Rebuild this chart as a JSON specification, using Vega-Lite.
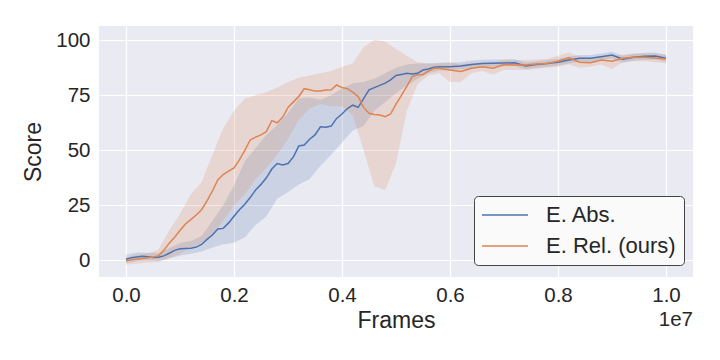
{
  "$schema": "https://vega.github.io/schema/vega-lite/v6.json",
  "width": 594,
  "height": 251,
  "autosize": {"type": "none"},
  "padding": {"left": 99, "top": 26, "right": 27, "bottom": 83},
  "background": "white",
  "config": {
    "view": {"fill": "#EAEAF2", "stroke": null},
    "font": "Liberation Sans",
    "axis": {
      "domain": false, "ticks": false, "gridColor": "white", "gridWidth": 1.2,
      "labelFont": "Liberation Sans", "labelFontSize": 20.5, "labelColor": "#262626",
      "titleFont": "Liberation Sans", "titleFontSize": 23, "titleFontWeight": "normal", "titleColor": "#262626"
    },
    "legend": {
      "labelFont": "Liberation Sans", "labelFontSize": 22, "labelColor": "#262626"
    }
  },
  "datasets": {
    "bands": [
      {"frames": 0, "series": "E. Abs.", "lo": -1.2, "hi": 2.5},
      {"frames": 200000, "series": "E. Abs.", "lo": -0.3, "hi": 3.5},
      {"frames": 400000, "series": "E. Abs.", "lo": -0.2, "hi": 3.4},
      {"frames": 600000, "series": "E. Abs.", "lo": -0.3, "hi": 3.2},
      {"frames": 800000, "series": "E. Abs.", "lo": 0.8, "hi": 5.5},
      {"frames": 1000000, "series": "E. Abs.", "lo": 2.2, "hi": 7.8},
      {"frames": 1200000, "series": "E. Abs.", "lo": 3.0, "hi": 8.8},
      {"frames": 1400000, "series": "E. Abs.", "lo": 4.0, "hi": 11},
      {"frames": 1600000, "series": "E. Abs.", "lo": 5.8, "hi": 18},
      {"frames": 1800000, "series": "E. Abs.", "lo": 7.3, "hi": 25},
      {"frames": 2000000, "series": "E. Abs.", "lo": 8, "hi": 34},
      {"frames": 2200000, "series": "E. Abs.", "lo": 10.5, "hi": 45},
      {"frames": 2400000, "series": "E. Abs.", "lo": 16, "hi": 51},
      {"frames": 2600000, "series": "E. Abs.", "lo": 20, "hi": 57},
      {"frames": 2800000, "series": "E. Abs.", "lo": 28, "hi": 61.5},
      {"frames": 3000000, "series": "E. Abs.", "lo": 31, "hi": 67},
      {"frames": 3200000, "series": "E. Abs.", "lo": 34.5, "hi": 73.5},
      {"frames": 3400000, "series": "E. Abs.", "lo": 37, "hi": 74},
      {"frames": 3600000, "series": "E. Abs.", "lo": 43, "hi": 73},
      {"frames": 3800000, "series": "E. Abs.", "lo": 48, "hi": 75},
      {"frames": 4000000, "series": "E. Abs.", "lo": 53.5, "hi": 78},
      {"frames": 4200000, "series": "E. Abs.", "lo": 59, "hi": 80.5},
      {"frames": 4400000, "series": "E. Abs.", "lo": 61, "hi": 81},
      {"frames": 4600000, "series": "E. Abs.", "lo": 68, "hi": 82.5},
      {"frames": 4800000, "series": "E. Abs.", "lo": 72, "hi": 85},
      {"frames": 5000000, "series": "E. Abs.", "lo": 76, "hi": 87.5},
      {"frames": 5200000, "series": "E. Abs.", "lo": 79.5, "hi": 89},
      {"frames": 5400000, "series": "E. Abs.", "lo": 82.5, "hi": 89.5},
      {"frames": 5600000, "series": "E. Abs.", "lo": 85, "hi": 89.5},
      {"frames": 5800000, "series": "E. Abs.", "lo": 86.3, "hi": 89.8},
      {"frames": 6000000, "series": "E. Abs.", "lo": 86.5, "hi": 89.8},
      {"frames": 6200000, "series": "E. Abs.", "lo": 86.8, "hi": 90},
      {"frames": 6400000, "series": "E. Abs.", "lo": 87.2, "hi": 90.7},
      {"frames": 6600000, "series": "E. Abs.", "lo": 87.8, "hi": 91.2},
      {"frames": 6800000, "series": "E. Abs.", "lo": 88, "hi": 91.3},
      {"frames": 7000000, "series": "E. Abs.", "lo": 88.2, "hi": 91.3},
      {"frames": 7200000, "series": "E. Abs.", "lo": 88.3, "hi": 91.4},
      {"frames": 7400000, "series": "E. Abs.", "lo": 86.8, "hi": 90},
      {"frames": 7600000, "series": "E. Abs.", "lo": 87.5, "hi": 90.5},
      {"frames": 7800000, "series": "E. Abs.", "lo": 88, "hi": 91},
      {"frames": 8000000, "series": "E. Abs.", "lo": 88.5, "hi": 91.6},
      {"frames": 8200000, "series": "E. Abs.", "lo": 89.5, "hi": 92.5},
      {"frames": 8400000, "series": "E. Abs.", "lo": 90.3, "hi": 93.3},
      {"frames": 8600000, "series": "E. Abs.", "lo": 90.3, "hi": 93.3},
      {"frames": 8800000, "series": "E. Abs.", "lo": 91, "hi": 94},
      {"frames": 9000000, "series": "E. Abs.", "lo": 91.8, "hi": 94.8},
      {"frames": 9200000, "series": "E. Abs.", "lo": 89.8, "hi": 93},
      {"frames": 9400000, "series": "E. Abs.", "lo": 90.8, "hi": 93.8},
      {"frames": 9600000, "series": "E. Abs.", "lo": 91.2, "hi": 94.3},
      {"frames": 9800000, "series": "E. Abs.", "lo": 91.3, "hi": 94.4},
      {"frames": 10000000, "series": "E. Abs.", "lo": 90.3, "hi": 93.3},
      {"frames": 0, "series": "E. Rel. (ours)", "lo": -2, "hi": 1.2},
      {"frames": 200000, "series": "E. Rel. (ours)", "lo": -1.5, "hi": 2.5},
      {"frames": 400000, "series": "E. Rel. (ours)", "lo": -1, "hi": 3.2},
      {"frames": 600000, "series": "E. Rel. (ours)", "lo": -0.8, "hi": 4.8},
      {"frames": 800000, "series": "E. Rel. (ours)", "lo": 1, "hi": 13.5},
      {"frames": 1000000, "series": "E. Rel. (ours)", "lo": 3, "hi": 21},
      {"frames": 1200000, "series": "E. Rel. (ours)", "lo": 6, "hi": 30},
      {"frames": 1400000, "series": "E. Rel. (ours)", "lo": 8, "hi": 35.5},
      {"frames": 1600000, "series": "E. Rel. (ours)", "lo": 12, "hi": 48},
      {"frames": 1800000, "series": "E. Rel. (ours)", "lo": 18, "hi": 60},
      {"frames": 2000000, "series": "E. Rel. (ours)", "lo": 25, "hi": 68},
      {"frames": 2200000, "series": "E. Rel. (ours)", "lo": 30, "hi": 73.5},
      {"frames": 2400000, "series": "E. Rel. (ours)", "lo": 37, "hi": 75},
      {"frames": 2600000, "series": "E. Rel. (ours)", "lo": 42, "hi": 76.5},
      {"frames": 2800000, "series": "E. Rel. (ours)", "lo": 48, "hi": 78.5},
      {"frames": 3000000, "series": "E. Rel. (ours)", "lo": 55, "hi": 81},
      {"frames": 3200000, "series": "E. Rel. (ours)", "lo": 64, "hi": 83},
      {"frames": 3400000, "series": "E. Rel. (ours)", "lo": 69, "hi": 84},
      {"frames": 3600000, "series": "E. Rel. (ours)", "lo": 71, "hi": 85},
      {"frames": 3800000, "series": "E. Rel. (ours)", "lo": 70, "hi": 86},
      {"frames": 4000000, "series": "E. Rel. (ours)", "lo": 70, "hi": 88},
      {"frames": 4200000, "series": "E. Rel. (ours)", "lo": 66, "hi": 89.5},
      {"frames": 4400000, "series": "E. Rel. (ours)", "lo": 50, "hi": 97},
      {"frames": 4600000, "series": "E. Rel. (ours)", "lo": 33.5, "hi": 100.2},
      {"frames": 4800000, "series": "E. Rel. (ours)", "lo": 32, "hi": 99.5},
      {"frames": 5000000, "series": "E. Rel. (ours)", "lo": 44, "hi": 96},
      {"frames": 5200000, "series": "E. Rel. (ours)", "lo": 68, "hi": 93},
      {"frames": 5400000, "series": "E. Rel. (ours)", "lo": 80, "hi": 90},
      {"frames": 5600000, "series": "E. Rel. (ours)", "lo": 84, "hi": 89.5},
      {"frames": 5800000, "series": "E. Rel. (ours)", "lo": 85, "hi": 89.5},
      {"frames": 6000000, "series": "E. Rel. (ours)", "lo": 81, "hi": 90},
      {"frames": 6200000, "series": "E. Rel. (ours)", "lo": 81, "hi": 89},
      {"frames": 6400000, "series": "E. Rel. (ours)", "lo": 85, "hi": 89.5},
      {"frames": 6600000, "series": "E. Rel. (ours)", "lo": 86, "hi": 90},
      {"frames": 6800000, "series": "E. Rel. (ours)", "lo": 84.5, "hi": 90},
      {"frames": 7000000, "series": "E. Rel. (ours)", "lo": 86.5, "hi": 91},
      {"frames": 7200000, "series": "E. Rel. (ours)", "lo": 86.5, "hi": 91},
      {"frames": 7400000, "series": "E. Rel. (ours)", "lo": 86.5, "hi": 91},
      {"frames": 7600000, "series": "E. Rel. (ours)", "lo": 87, "hi": 91.3},
      {"frames": 7800000, "series": "E. Rel. (ours)", "lo": 87.5, "hi": 91.5},
      {"frames": 8000000, "series": "E. Rel. (ours)", "lo": 88, "hi": 93},
      {"frames": 8200000, "series": "E. Rel. (ours)", "lo": 89, "hi": 94.5},
      {"frames": 8400000, "series": "E. Rel. (ours)", "lo": 87.5, "hi": 92.5},
      {"frames": 8600000, "series": "E. Rel. (ours)", "lo": 88, "hi": 91.8},
      {"frames": 8800000, "series": "E. Rel. (ours)", "lo": 89, "hi": 93},
      {"frames": 9000000, "series": "E. Rel. (ours)", "lo": 87, "hi": 93},
      {"frames": 9200000, "series": "E. Rel. (ours)", "lo": 90, "hi": 93.5},
      {"frames": 9400000, "series": "E. Rel. (ours)", "lo": 90.5, "hi": 94},
      {"frames": 9600000, "series": "E. Rel. (ours)", "lo": 90.5, "hi": 94},
      {"frames": 9800000, "series": "E. Rel. (ours)", "lo": 90, "hi": 94},
      {"frames": 10000000, "series": "E. Rel. (ours)", "lo": 89.5, "hi": 93.5}
    ],
    "lines": [
      {"frames": 0, "series": "E. Abs.", "mean": 0.5},
      {"frames": 100000, "series": "E. Abs.", "mean": 1.2},
      {"frames": 200000, "series": "E. Abs.", "mean": 1.5},
      {"frames": 300000, "series": "E. Abs.", "mean": 1.8},
      {"frames": 400000, "series": "E. Abs.", "mean": 1.6},
      {"frames": 500000, "series": "E. Abs.", "mean": 1.3},
      {"frames": 600000, "series": "E. Abs.", "mean": 1.4},
      {"frames": 700000, "series": "E. Abs.", "mean": 2.0},
      {"frames": 800000, "series": "E. Abs.", "mean": 3.2},
      {"frames": 900000, "series": "E. Abs.", "mean": 4.5},
      {"frames": 1000000, "series": "E. Abs.", "mean": 5.2},
      {"frames": 1100000, "series": "E. Abs.", "mean": 5.4},
      {"frames": 1200000, "series": "E. Abs.", "mean": 5.5},
      {"frames": 1300000, "series": "E. Abs.", "mean": 6.0},
      {"frames": 1400000, "series": "E. Abs.", "mean": 7.2},
      {"frames": 1500000, "series": "E. Abs.", "mean": 9.5},
      {"frames": 1600000, "series": "E. Abs.", "mean": 11.5},
      {"frames": 1700000, "series": "E. Abs.", "mean": 14.2},
      {"frames": 1800000, "series": "E. Abs.", "mean": 14.5},
      {"frames": 1900000, "series": "E. Abs.", "mean": 17},
      {"frames": 2000000, "series": "E. Abs.", "mean": 20},
      {"frames": 2100000, "series": "E. Abs.", "mean": 23},
      {"frames": 2200000, "series": "E. Abs.", "mean": 25.5},
      {"frames": 2300000, "series": "E. Abs.", "mean": 28.5},
      {"frames": 2400000, "series": "E. Abs.", "mean": 32},
      {"frames": 2500000, "series": "E. Abs.", "mean": 34.5},
      {"frames": 2600000, "series": "E. Abs.", "mean": 37.5},
      {"frames": 2700000, "series": "E. Abs.", "mean": 41.5},
      {"frames": 2800000, "series": "E. Abs.", "mean": 44},
      {"frames": 2900000, "series": "E. Abs.", "mean": 43.3},
      {"frames": 3000000, "series": "E. Abs.", "mean": 44},
      {"frames": 3100000, "series": "E. Abs.", "mean": 47},
      {"frames": 3200000, "series": "E. Abs.", "mean": 52},
      {"frames": 3300000, "series": "E. Abs.", "mean": 52.4},
      {"frames": 3400000, "series": "E. Abs.", "mean": 55},
      {"frames": 3500000, "series": "E. Abs.", "mean": 57},
      {"frames": 3600000, "series": "E. Abs.", "mean": 60.7},
      {"frames": 3700000, "series": "E. Abs.", "mean": 60.5},
      {"frames": 3800000, "series": "E. Abs.", "mean": 61},
      {"frames": 3900000, "series": "E. Abs.", "mean": 64.5},
      {"frames": 4000000, "series": "E. Abs.", "mean": 66.5},
      {"frames": 4100000, "series": "E. Abs.", "mean": 69},
      {"frames": 4200000, "series": "E. Abs.", "mean": 70.5},
      {"frames": 4300000, "series": "E. Abs.", "mean": 69.5},
      {"frames": 4400000, "series": "E. Abs.", "mean": 73.5},
      {"frames": 4500000, "series": "E. Abs.", "mean": 77.5},
      {"frames": 4600000, "series": "E. Abs.", "mean": 78.5},
      {"frames": 4700000, "series": "E. Abs.", "mean": 79.5},
      {"frames": 4800000, "series": "E. Abs.", "mean": 80.5},
      {"frames": 4900000, "series": "E. Abs.", "mean": 82},
      {"frames": 5000000, "series": "E. Abs.", "mean": 84},
      {"frames": 5100000, "series": "E. Abs.", "mean": 84.5},
      {"frames": 5200000, "series": "E. Abs.", "mean": 85},
      {"frames": 5300000, "series": "E. Abs.", "mean": 84.7},
      {"frames": 5400000, "series": "E. Abs.", "mean": 85},
      {"frames": 5500000, "series": "E. Abs.", "mean": 86.5},
      {"frames": 5600000, "series": "E. Abs.", "mean": 87},
      {"frames": 5700000, "series": "E. Abs.", "mean": 87.7},
      {"frames": 5800000, "series": "E. Abs.", "mean": 88},
      {"frames": 6000000, "series": "E. Abs.", "mean": 88},
      {"frames": 6200000, "series": "E. Abs.", "mean": 88.3},
      {"frames": 6400000, "series": "E. Abs.", "mean": 89},
      {"frames": 6600000, "series": "E. Abs.", "mean": 89.5},
      {"frames": 6800000, "series": "E. Abs.", "mean": 89.6},
      {"frames": 7000000, "series": "E. Abs.", "mean": 89.7},
      {"frames": 7200000, "series": "E. Abs.", "mean": 89.8},
      {"frames": 7400000, "series": "E. Abs.", "mean": 88.3},
      {"frames": 7600000, "series": "E. Abs.", "mean": 89},
      {"frames": 7800000, "series": "E. Abs.", "mean": 89.5},
      {"frames": 8000000, "series": "E. Abs.", "mean": 90},
      {"frames": 8200000, "series": "E. Abs.", "mean": 91},
      {"frames": 8400000, "series": "E. Abs.", "mean": 91.8},
      {"frames": 8600000, "series": "E. Abs.", "mean": 91.8},
      {"frames": 8800000, "series": "E. Abs.", "mean": 92.5},
      {"frames": 9000000, "series": "E. Abs.", "mean": 93.3},
      {"frames": 9200000, "series": "E. Abs.", "mean": 91.4},
      {"frames": 9400000, "series": "E. Abs.", "mean": 92.3},
      {"frames": 9600000, "series": "E. Abs.", "mean": 92.8},
      {"frames": 9800000, "series": "E. Abs.", "mean": 92.9},
      {"frames": 10000000, "series": "E. Abs.", "mean": 91.8},
      {"frames": 0, "series": "E. Rel. (ours)", "mean": -0.2},
      {"frames": 100000, "series": "E. Rel. (ours)", "mean": 0.2},
      {"frames": 200000, "series": "E. Rel. (ours)", "mean": 0.5},
      {"frames": 300000, "series": "E. Rel. (ours)", "mean": 0.8},
      {"frames": 400000, "series": "E. Rel. (ours)", "mean": 1.2},
      {"frames": 500000, "series": "E. Rel. (ours)", "mean": 1.5},
      {"frames": 600000, "series": "E. Rel. (ours)", "mean": 2},
      {"frames": 700000, "series": "E. Rel. (ours)", "mean": 4.5},
      {"frames": 800000, "series": "E. Rel. (ours)", "mean": 7.8},
      {"frames": 900000, "series": "E. Rel. (ours)", "mean": 10.5},
      {"frames": 1000000, "series": "E. Rel. (ours)", "mean": 13.5},
      {"frames": 1100000, "series": "E. Rel. (ours)", "mean": 16.5},
      {"frames": 1200000, "series": "E. Rel. (ours)", "mean": 18.5},
      {"frames": 1300000, "series": "E. Rel. (ours)", "mean": 20.6},
      {"frames": 1400000, "series": "E. Rel. (ours)", "mean": 23},
      {"frames": 1500000, "series": "E. Rel. (ours)", "mean": 27},
      {"frames": 1600000, "series": "E. Rel. (ours)", "mean": 31.5},
      {"frames": 1700000, "series": "E. Rel. (ours)", "mean": 36.5},
      {"frames": 1800000, "series": "E. Rel. (ours)", "mean": 39},
      {"frames": 1900000, "series": "E. Rel. (ours)", "mean": 40.5},
      {"frames": 2000000, "series": "E. Rel. (ours)", "mean": 42},
      {"frames": 2100000, "series": "E. Rel. (ours)", "mean": 45.6},
      {"frames": 2200000, "series": "E. Rel. (ours)", "mean": 50},
      {"frames": 2300000, "series": "E. Rel. (ours)", "mean": 54.7},
      {"frames": 2400000, "series": "E. Rel. (ours)", "mean": 56},
      {"frames": 2500000, "series": "E. Rel. (ours)", "mean": 57},
      {"frames": 2600000, "series": "E. Rel. (ours)", "mean": 58.5},
      {"frames": 2700000, "series": "E. Rel. (ours)", "mean": 63.5},
      {"frames": 2800000, "series": "E. Rel. (ours)", "mean": 62.5},
      {"frames": 2900000, "series": "E. Rel. (ours)", "mean": 65},
      {"frames": 3000000, "series": "E. Rel. (ours)", "mean": 69.5},
      {"frames": 3100000, "series": "E. Rel. (ours)", "mean": 72},
      {"frames": 3200000, "series": "E. Rel. (ours)", "mean": 74.5},
      {"frames": 3300000, "series": "E. Rel. (ours)", "mean": 78},
      {"frames": 3400000, "series": "E. Rel. (ours)", "mean": 77.5},
      {"frames": 3500000, "series": "E. Rel. (ours)", "mean": 76.9},
      {"frames": 3600000, "series": "E. Rel. (ours)", "mean": 77},
      {"frames": 3700000, "series": "E. Rel. (ours)", "mean": 77.4},
      {"frames": 3800000, "series": "E. Rel. (ours)", "mean": 77.5},
      {"frames": 3900000, "series": "E. Rel. (ours)", "mean": 79.7},
      {"frames": 4000000, "series": "E. Rel. (ours)", "mean": 78.5},
      {"frames": 4100000, "series": "E. Rel. (ours)", "mean": 78},
      {"frames": 4200000, "series": "E. Rel. (ours)", "mean": 76.4},
      {"frames": 4300000, "series": "E. Rel. (ours)", "mean": 74.4},
      {"frames": 4400000, "series": "E. Rel. (ours)", "mean": 69.5},
      {"frames": 4500000, "series": "E. Rel. (ours)", "mean": 66.8},
      {"frames": 4600000, "series": "E. Rel. (ours)", "mean": 66.3},
      {"frames": 4700000, "series": "E. Rel. (ours)", "mean": 66},
      {"frames": 4800000, "series": "E. Rel. (ours)", "mean": 65.3},
      {"frames": 4900000, "series": "E. Rel. (ours)", "mean": 66.5},
      {"frames": 5000000, "series": "E. Rel. (ours)", "mean": 71},
      {"frames": 5100000, "series": "E. Rel. (ours)", "mean": 75},
      {"frames": 5200000, "series": "E. Rel. (ours)", "mean": 79},
      {"frames": 5300000, "series": "E. Rel. (ours)", "mean": 83.5},
      {"frames": 5400000, "series": "E. Rel. (ours)", "mean": 84.3},
      {"frames": 5500000, "series": "E. Rel. (ours)", "mean": 84.5},
      {"frames": 5600000, "series": "E. Rel. (ours)", "mean": 86},
      {"frames": 5700000, "series": "E. Rel. (ours)", "mean": 87.3},
      {"frames": 5800000, "series": "E. Rel. (ours)", "mean": 87.3},
      {"frames": 6000000, "series": "E. Rel. (ours)", "mean": 86.5},
      {"frames": 6200000, "series": "E. Rel. (ours)", "mean": 85.8},
      {"frames": 6400000, "series": "E. Rel. (ours)", "mean": 87.3},
      {"frames": 6600000, "series": "E. Rel. (ours)", "mean": 88},
      {"frames": 6800000, "series": "E. Rel. (ours)", "mean": 87.3},
      {"frames": 7000000, "series": "E. Rel. (ours)", "mean": 89},
      {"frames": 7200000, "series": "E. Rel. (ours)", "mean": 88.8},
      {"frames": 7400000, "series": "E. Rel. (ours)", "mean": 88.8},
      {"frames": 7600000, "series": "E. Rel. (ours)", "mean": 89.2},
      {"frames": 7800000, "series": "E. Rel. (ours)", "mean": 89.5},
      {"frames": 8000000, "series": "E. Rel. (ours)", "mean": 90.5},
      {"frames": 8200000, "series": "E. Rel. (ours)", "mean": 92},
      {"frames": 8400000, "series": "E. Rel. (ours)", "mean": 90},
      {"frames": 8600000, "series": "E. Rel. (ours)", "mean": 89.8},
      {"frames": 8800000, "series": "E. Rel. (ours)", "mean": 91},
      {"frames": 9000000, "series": "E. Rel. (ours)", "mean": 90.5},
      {"frames": 9200000, "series": "E. Rel. (ours)", "mean": 91.8},
      {"frames": 9400000, "series": "E. Rel. (ours)", "mean": 92.3},
      {"frames": 9600000, "series": "E. Rel. (ours)", "mean": 92.3},
      {"frames": 9800000, "series": "E. Rel. (ours)", "mean": 92},
      {"frames": 10000000, "series": "E. Rel. (ours)", "mean": 91.5}
    ],
    "note": [{"label": "1e7", "x": 10500000, "y": -7.6}]
  },
  "encoding": {
    "x": {"field": "frames", "type": "quantitative",
      "scale": {"domain": [-500000, 10500000], "nice": false, "zero": false},
      "axis": {"values": [0, 2000000, 4000000, 6000000, 8000000, 10000000],
        "labelExpr": "format(datum.value / 10000000, '.1f')", "title": "Frames",
        "labelPadding": 8, "titlePadding": 4}}
  },
  "layer": [
    {
      "data": {"name": "bands"},
      "transform": [{"filter": "datum.series == 'E. Abs.'"}],
      "mark": {"type": "area", "opacity": 0.2, "color": "#4C72B0"},
      "encoding": {
        "y": {"field": "lo", "type": "quantitative",
          "scale": {"domain": [-7.6, 106.5], "nice": false, "zero": false},
          "axis": {"values": [0, 25, 50, 75, 100], "title": "Score", "labelPadding": 9, "titlePadding": 10}},
        "y2": {"field": "hi"}
      }
    },
    {
      "data": {"name": "bands"},
      "transform": [{"filter": "datum.series == 'E. Rel. (ours)'"}],
      "mark": {"type": "area", "opacity": 0.2, "color": "#DD8452"},
      "encoding": {
        "y": {"field": "lo", "type": "quantitative"},
        "y2": {"field": "hi"}
      }
    },
    {
      "data": {"name": "lines"},
      "mark": {"type": "line", "strokeWidth": 1.5},
      "encoding": {
        "y": {"field": "mean", "type": "quantitative"},
        "stroke": {"field": "series", "type": "nominal",
          "scale": {"domain": ["E. Abs.", "E. Rel. (ours)"], "range": ["#4C72B0", "#DD8452"]},
          "legend": {"title": null, "orient": "none", "legendX": 375, "legendY": 170,
            "symbolType": "M-2.3,0L2.3,0", "symbolSize": 400, "symbolStrokeWidth": 1.5,
            "symbolOffset": 12, "labelOffset": 30, "rowPadding": 9, "padding": 8,
            "fillColor": "#FAFAFA", "strokeColor": "#444444", "cornerRadius": 4}}
      }
    },
    {
      "data": {"name": "note"},
      "mark": {"type": "text", "align": "right", "baseline": "middle", "dy": 43, "fontSize": 20.5, "fontWeight": "normal", "font": "Liberation Sans", "color": "#262626"},
      "encoding": {
        "x": {"field": "x", "type": "quantitative"},
        "y": {"field": "y", "type": "quantitative"},
        "text": {"field": "label"}
      }
    }
  ]
}
